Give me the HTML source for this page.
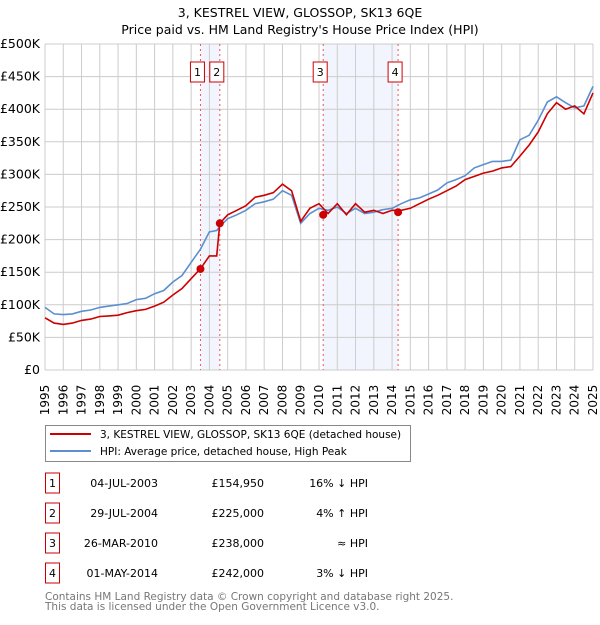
<!DOCTYPE html>
<html><head><meta charset="utf-8"><style>
body{margin:0;background:#fff;}
svg text{font-family:"DejaVu Sans","Liberation Sans",sans-serif;}
</style></head><body>
<svg id="c" width="600" height="620" xmlns="http://www.w3.org/2000/svg">
<text x="300" y="17" text-anchor="middle" font-size="12.5">3, KESTREL VIEW, GLOSSOP, SK13 6QE</text>
<text x="300" y="34" text-anchor="middle" font-size="12.5">Price paid vs. HM Land Registry's House Price Index (HPI)</text>
<g id="plot"></g>
<rect x="45.5" y="425.5" width="365" height="36" fill="#fff" stroke="#888"/>
<line x1="50" y1="434" x2="91" y2="434" stroke="#cc0000" stroke-width="2"/>
<text x="100" y="438" font-size="10.5">3, KESTREL VIEW, GLOSSOP, SK13 6QE (detached house)</text>
<line x1="50" y1="451" x2="91" y2="451" stroke="#5b8fd0" stroke-width="2"/>
<text x="100" y="455" font-size="10.5">HPI: Average price, detached house, High Peak</text>
<g id="table" font-size="11"></g>
<text x="45" y="600" font-size="10.5" fill="#777">Contains HM Land Registry data © Crown copyright and database right 2025.</text>
<text x="45" y="610" font-size="10.5" fill="#777">This data is licensed under the Open Government Licence v3.0.</text>
</svg>
<script>
const years=[1995,1995.5,1996,1996.5,1997,1997.5,1998,1998.5,1999,1999.5,2000,2000.5,2001,2001.5,2002,2002.5,2003,2003.5,2004,2004.4,2004.57,2005,2005.5,2006,2006.5,2007,2007.5,2008,2008.5,2009,2009.5,2010,2010.5,2011,2011.5,2012,2012.5,2013,2013.5,2014,2014.5,2015,2015.5,2016,2016.5,2017,2017.5,2018,2018.5,2019,2019.5,2020,2020.5,2021,2021.5,2022,2022.5,2023,2023.5,2024,2024.5,2025];
const hpi=[96,86,85,86,90,92,96,98,100,102,108,110,117,122,135,145,165,185,212,214,220,232,238,245,255,258,262,275,268,225,240,248,245,250,240,248,240,242,246,248,255,261,264,270,276,287,292,298,310,315,320,320,322,353,360,383,411,419,410,402,405,435];
const price=[80,72,70,72,76,78,82,83,84,88,91,93,98,104,115,125,140,155,175,175,225,238,245,252,265,268,272,285,275,228,248,255,240,255,238,255,242,245,240,245,245,248,255,262,268,275,282,292,297,302,305,310,312,328,345,365,393,410,400,405,393,425];
const sales=[2003.51,2004.57,2010.23,2014.33];
const salePrices=[154.95,225,238,242];
const saleLabels=["1","2","3","4"];
const saleDates=["04-JUL-2003","29-JUL-2004","26-MAR-2010","01-MAY-2014"];
const salePriceText=["£154,950","£225,000","£238,000","£242,000"];
const saleHpiText=["16% ↓ HPI","4% ↑ HPI","≈ HPI","3% ↓ HPI"];
const yTicks=[0,50,100,150,200,250,300,350,400,450,500];
const yTickLabels=["£0","£50K","£100K","£150K","£200K","£250K","£300K","£350K","£400K","£450K","£500K"];
const xTicks=[1995,1996,1997,1998,1999,2000,2001,2002,2003,2004,2005,2006,2007,2008,2009,2010,2011,2012,2013,2014,2015,2016,2017,2018,2019,2020,2021,2022,2023,2024,2025];
const NS="http://www.w3.org/2000/svg";
const X=y=>45+(y-1995)*(593-45)/30;
const Y=v=>370-v*(370-44)/500;
const g=document.getElementById('plot');
function mk(t,a,p){const e=document.createElementNS(NS,t);for(const k in a)e.setAttribute(k,a[k]);(p||g).appendChild(e);return e;}
for(let i=0;i<sales.length;i+=2){
 const r=mk('rect',{x:X(sales[i]),y:44,width:X(sales[i+1])-X(sales[i]),height:326,fill:'#f2f5fd'});
 
 
}
yTicks.forEach((v,i)=>{
 const l=mk('line',{x1:45,x2:593,y1:Y(v),y2:Y(v),stroke:'#ccc'});
 
 
 const t=mk('text',{x:40,y:Y(v)+4,'text-anchor':'end','font-size':'12.5'});t.textContent=yTickLabels[i];
 
 
});
xTicks.forEach(v=>{
 const l=mk('line',{x1:X(v),x2:X(v),y1:44,y2:370,stroke:'#ccc'});
 
 
 const t=mk('text',{x:0,y:0,'font-size':'12',transform:`translate(${X(v)+4},${400}) rotate(-90)`,'text-anchor':'middle'});t.textContent=v;
 
 
});
sales.forEach((s,i)=>{
 const l=mk('line',{x1:X(s),x2:X(s),y1:44,y2:370,stroke:'#e55','stroke-dasharray':'2,3'});
 
 
 const b=mk('rect',{x:X(s)-10,y:62,width:14,height:20,fill:'#fff',stroke:'#c00'});
 
 
 const t=mk('text',{x:X(s)-3,y:76,'text-anchor':'middle','font-size':'11'});t.textContent=saleLabels[i];
 
 
});
const path=arr=>arr.map((v,i)=>(i?'L':'M')+X(years[i]).toFixed(1)+','+Y(v).toFixed(1)).join('');
const h=mk('path',{d:path(hpi),fill:'none',stroke:'#5b8fd0','stroke-width':1.6});


const p=mk('path',{d:path(price),fill:'none',stroke:'#cc0000','stroke-width':1.6});


sales.forEach((s,i)=>{
 const c=mk('circle',{cx:X(s),cy:Y(salePrices[i]),r:4,fill:'#cc0000'});
 
 
});
const tb=document.getElementById('table');
const rowY=[483,513,543,573];
sales.forEach((s,i)=>{
 const y=rowY[i];
 const b=mk('rect',{x:45.5,y:y-10,width:14,height:20,fill:'#fff',stroke:'#c00'},tb);
 
 
 const n=mk('text',{x:52.5,y:y+4,'text-anchor':'middle'},tb);n.textContent=saleLabels[i];
 
 
 const d=mk('text',{x:158,y:y+4,'text-anchor':'end'},tb);d.textContent=saleDates[i];
 
 
 const pr=mk('text',{x:264,y:y+4,'text-anchor':'end'},tb);pr.textContent=salePriceText[i];
 
 
 const hp=mk('text',{x:368,y:y+4,'text-anchor':'end'},tb);hp.textContent=saleHpiText[i];
 
 
});
</script>
</body></html>
